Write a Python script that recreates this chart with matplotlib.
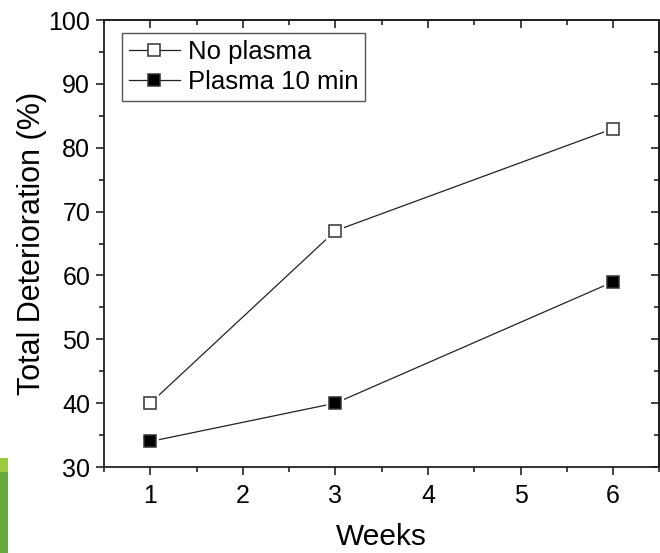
import matplotlib
matplotlib.use('Agg')
import matplotlib.pyplot as plt
from matplotlib.ticker import MultipleLocator
from matplotlib.patches import Rectangle

weeks = [1, 3, 6]
no_plasma = [40, 67, 83]
plasma_10 = [34, 40, 59]
series_labels = ['No plasma', 'Plasma 10 min']

plt.rcParams['font.family'] = ['Liberation Sans', 'DejaVu Sans']

fig = plt.figure(figsize=(6.6, 5.53), dpi=100)
ax = fig.add_axes([0.1576, 0.1555, 0.8416, 0.8083])

def draw_series(y, face, label):
    # thin connecting line, white halo under the marker leaves a small gap
    ax.plot(weeks, y, '-', color='#222222', lw=0.9, zorder=2)
    ax.plot(weeks, y, 's', ms=12.5, mfc='white', mec='white', mew=0, zorder=3)
    ax.plot(weeks, y, 's', ms=8.8, mfc=face, mec='#333333', mew=1.1, zorder=4)

draw_series(no_plasma, 'white', series_labels[0])
draw_series(plasma_10, 'black', series_labels[1])

# legend handles: line through marker
h1, = ax.plot([], [], '-s', color='#222222', lw=0.9, ms=8, mfc='white', mec='#333333', mew=1.1)
h2, = ax.plot([], [], '-s', color='#222222', lw=0.9, ms=8, mfc='black', mec='#333333', mew=1.1)
leg = ax.legend([h1, h2], series_labels, loc='upper left', bbox_to_anchor=(0.033, 0.97),
                borderaxespad=0, fontsize=18.5, fancybox=False, framealpha=1,
                edgecolor='#555555', handlelength=2.0, handletextpad=0.3,
                borderpad=0.25, labelspacing=0.25)
leg.get_frame().set_linewidth(1.0)

ax.set_xlim(0.5, 6.5)
ax.set_ylim(30, 100)
ax.xaxis.set_major_locator(MultipleLocator(1))
ax.xaxis.set_minor_locator(MultipleLocator(0.5))
ax.yaxis.set_major_locator(MultipleLocator(10))
ax.yaxis.set_minor_locator(MultipleLocator(5))

ax.set_xticks([1, 2, 3, 4, 5, 6])
ax.tick_params(which='both', direction='out', width=1.2, labelsize=18, color='#222222')
ax.tick_params(which='major', length=6)
ax.tick_params(which='minor', length=3.5)
ax.tick_params(axis='x', pad=6)
ax.tick_params(axis='y', pad=4)

# inward ticks on the top and right edges
top = ax.secondary_xaxis('top')
top.set_xticks([1, 2, 3, 4, 5, 6])
top.xaxis.set_minor_locator(MultipleLocator(0.5))
top.tick_params(which='both', direction='in', width=1.2, labeltop=False, color='#222222')
top.tick_params(which='major', length=6)
top.tick_params(which='minor', length=3.5)
right = ax.secondary_yaxis('right')
right.yaxis.set_major_locator(MultipleLocator(10))
right.yaxis.set_minor_locator(MultipleLocator(5))
right.tick_params(which='both', direction='in', width=1.2, labelright=False, color='#222222')
right.tick_params(which='major', length=6)
right.tick_params(which='minor', length=3.5)

for s in ['left', 'bottom', 'top', 'right']:
    ax.spines[s].set_linewidth(1.3)
    ax.spines[s].set_color('#222222')
top.spines['top'].set_linewidth(1.3)
right.spines['right'].set_linewidth(1.3)

ax.set_xlabel('Weeks', fontsize=21.5, labelpad=11)
ax.set_ylabel('Total Deterioration (%)', fontsize=22, labelpad=1)

# green strip at the lower left corner
fig.patches.append(Rectangle((0, 0), 8 / 660, 81 / 553, transform=fig.transFigure,
                             facecolor='#66A83A', edgecolor='none'))
fig.patches.append(Rectangle((0, 81 / 553), 8 / 660, 14 / 553, transform=fig.transFigure,
                             facecolor='#9BCB3C', edgecolor='none'))

fig.savefig('out.png', dpi=100)
